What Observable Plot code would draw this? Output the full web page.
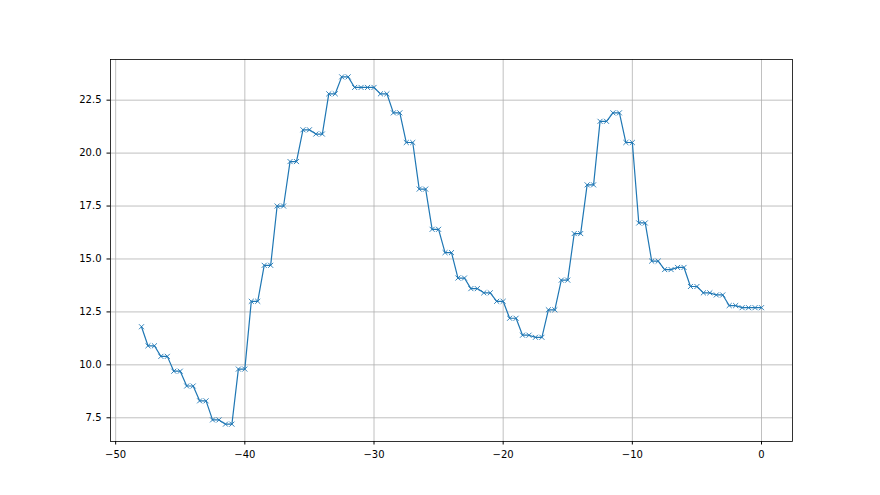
<!DOCTYPE html>
<html>
<head>
<meta charset="utf-8">
<script src="https://cdn.jsdelivr.net/npm/d3@7"></script>
<script src="https://cdn.jsdelivr.net/npm/@observablehq/plot@0.6"></script>
<style>
  html, body { margin: 0; padding: 0; background: #fff; }
  #chart svg { display: block; }
</style>
</head>
<body>
<div id="chart"></div>
<script>
const xValues = [
  -48, -47.5, -47, -46.5, -46, -45.5, -45, -44.5, -44, -43.5, -43, -42.5, -42, -41.5, -41,
  -40.5, -40, -39.5, -39, -38.5, -38, -37.5, -37, -36.5, -36, -35.5, -35, -34.5, -34,
  -33.5, -33, -32.5, -32, -31.5, -31, -30.5, -30, -29.5, -29, -28.5, -28, -27.5, -27,
  -26.5, -26, -25.5, -25, -24.5, -24, -23.5, -23, -22.5, -22, -21.5, -21, -20.5, -20,
  -19.5, -19, -18.5, -18, -17.5, -17, -16.5, -16, -15.5, -15, -14.5, -14, -13.5, -13,
  -12.5, -12, -11.5, -11, -10.5, -10, -9.5, -9, -8.5, -8, -7.5, -7, -6.5, -6,
  -5.5, -5, -4.5, -4, -3.5, -3, -2.5, -2, -1.5, -1, -0.5, 0
];
const yValues = [
  11.8, 10.9, 10.9, 10.4, 10.4, 9.7, 9.7, 9.0, 9.0, 8.3, 8.3, 7.4, 7.4, 7.2, 7.2,
  9.8, 9.8, 13.0, 13.0, 14.7, 14.7, 17.5, 17.5, 19.6, 19.6, 21.1, 21.1, 20.9, 20.9,
  22.8, 22.8, 23.6, 23.6, 23.1, 23.1, 23.1, 23.1, 22.8, 22.8, 21.9, 21.9, 20.5, 20.5,
  18.3, 18.3, 16.4, 16.4, 15.3, 15.3, 14.1, 14.1, 13.6, 13.6, 13.4, 13.4, 13.0, 13.0,
  12.2, 12.2, 11.4, 11.4, 11.3, 11.3, 12.6, 12.6, 14.0, 14.0, 16.2, 16.2, 18.5, 18.5,
  21.5, 21.5, 21.9, 21.9, 20.5, 20.5, 16.7, 16.7, 14.9, 14.9, 14.5, 14.5, 14.6, 14.6,
  13.7, 13.7, 13.4, 13.4, 13.3, 13.3, 12.8, 12.8, 12.7, 12.7, 12.7, 12.7
];
const xTicks = [-50, -40, -30, -20, -10, 0];
const yTicks = [7.5, 10.0, 12.5, 15.0, 17.5, 20.0, 22.5];

const data = xValues.map((x, i) => ({x, y: yValues[i]}));

const color = "#1f77b4";
const chart = Plot.plot({
  width: 880,
  height: 495,
  marginLeft: 110,
  marginRight: 88,
  marginTop: 59,
  marginBottom: 54,
  style: {fontFamily: "DejaVu Sans", fontSize: "10px", color: "#000", background: "#fff"},
  x: {domain: [-50.4, 2.4], ticks: xTicks, tickFormat: d3.format("d"), label: null, tickSize: 3.5, tickPadding: 3},
  y: {domain: [6.38, 24.42], ticks: yTicks, tickFormat: d3.format(".1f"), label: null, tickSize: 3.5, tickPadding: 3},
  marks: [
    Plot.gridX(xTicks, {stroke: "#b0b0b0", strokeOpacity: 1, strokeWidth: 0.8}),
    Plot.gridY(yTicks, {stroke: "#b0b0b0", strokeOpacity: 1, strokeWidth: 0.8}),
    Plot.axisX({ticks: xTicks, tickFormat: d3.format("d"), tickSize: 3.5, label: null, stroke: "#000", fill: "#000"}),
    Plot.axisY({ticks: yTicks, tickFormat: d3.format(".1f"), tickSize: 3.5, label: null, stroke: "#000", fill: "#000"}),
    Plot.line(data, {x: "x", y: "y", stroke: color, strokeWidth: 1.2}),
    Plot.dot(data, {x: "x", y: "y", symbol: "times", r: 2.4, stroke: color, strokeWidth: 0.9}),
    Plot.frame({stroke: "#000", strokeWidth: 0.8})
  ]
});
document.getElementById("chart").appendChild(chart);
</script>
</body>
</html>
